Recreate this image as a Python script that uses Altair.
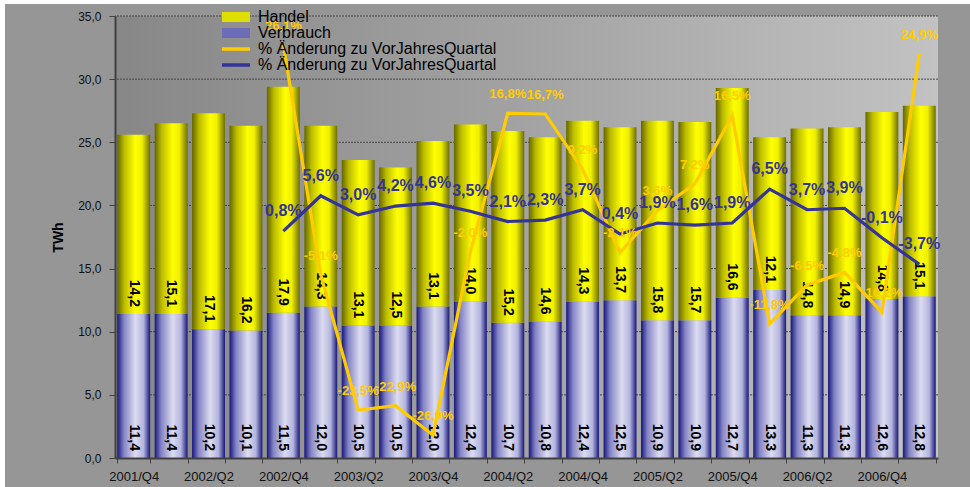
import altair as alt
import pandas as pd

# ---------------- data ----------------
quarters = ["2001/Q4", "2002/Q1", "2002/Q2", "2002/Q3", "2002/Q4", "2003/Q1",
            "2003/Q2", "2003/Q3", "2003/Q4", "2004/Q1", "2004/Q2", "2004/Q3",
            "2004/Q4", "2005/Q1", "2005/Q2", "2005/Q3", "2005/Q4", "2006/Q1",
            "2006/Q2", "2006/Q3", "2006/Q4", "2007/Q1"]
verbrauch = [11.4, 11.4, 10.2, 10.1, 11.5, 12.0, 10.5, 10.5, 12.0, 12.4, 10.7,
             10.8, 12.4, 12.5, 10.9, 10.9, 12.7, 13.3, 11.3, 11.3, 12.6, 12.8]
handel = [14.2, 15.1, 17.1, 16.2, 17.9, 14.3, 13.1, 12.5, 13.1, 14.0, 15.2,
          14.6, 14.3, 13.7, 15.8, 15.7, 16.6, 12.1, 14.8, 14.9, 14.8, 15.1]
handel_pct = [None, None, None, None, 26.1, -5.1, -23.5, -22.9, -26.9, -2.0, 16.8,
              16.7, 9.2, -2.1, 3.6, 7.2, 16.5, -11.8, -6.5, -4.8, -10.2, 24.9]
verbrauch_pct = [None, None, None, None, 0.8, 5.6, 3.0, 4.2, 4.6, 3.5, 2.1,
                 2.3, 3.7, 0.4, 1.9, 1.6, 1.9, 6.5, 3.7, 3.9, -0.1, -3.7]

series_bars = ["Handel", "Verbrauch"]
series_lines = ["Handel %", "Verbrauch %"]
line_label = "% Änderung zu VorJahresQuartal"
y_ticks = [0, 5, 10, 15, 20, 25, 30, 35]
pct_domain = [-30, 30]

# ---------------- styling ----------------
W, H = 823, 442
PAD = {"left": 115, "top": 16, "right": 32, "bottom": 29}
FONT = "Liberation Sans"
YELLOW_LINE = "#FFCC00"
BLUE_LINE = "#333399"

bars_df = pd.DataFrame({"quarter": quarters, "verbrauch": verbrauch, "handel": handel})
bars_df["total"] = (bars_df["verbrauch"] + bars_df["handel"]).round(2)
bars_df["zero"] = 0.0

lines_df = pd.DataFrame({
    "quarter": quarters * 2,
    "series": [series_lines[0]] * len(quarters) + [series_lines[1]] * len(quarters),
    "pct": handel_pct + verbrauch_pct,
})

grid_df = pd.DataFrame({"v": y_ticks[1:]})

x_enc = alt.X(
    "quarter:N", title=None,
    scale=alt.Scale(domain=quarters, paddingInner=0.12, paddingOuter=0.06),
    axis=alt.Axis(labelAngle=0,
                  labelExpr="test(regexp('Q[24]$'), datum.label) ? datum.label : ''",
                  labelOverlap=False, tickBand="extent", tickSize=5, tickColor="#404040",
                  domainColor="#404040", domainWidth=2, labelFontSize=13, labelFont=FONT,
                  labelColor="#111111", labelPadding=7, grid=False, zindex=1),
)

yscale = alt.Scale(domain=[0, 35], nice=False, zero=True)
y_axis = alt.Axis(values=y_ticks, labelExpr="replace(format(datum.value, '.1f'), '.', ',')",
                  grid=False, domainColor="#404040", domainWidth=2, tickColor="#404040",
                  tickSize=6, labelPadding=8, labelFontSize=12, labelFont=FONT,
                  labelColor="#111111", title="TWh", titleFontSize=14, titleFontWeight="bold",
                  titleFont=FONT, titleColor="#000000", titlePadding=12, zindex=1)

bg_grad = alt.Gradient(gradient="linear", x1=0, x2=1, y1=0, y2=0, stops=[
    alt.GradientStop(color="#878787", offset=0),
    alt.GradientStop(color="#a3a3a3", offset=0.5),
    alt.GradientStop(color="#c2c2c2", offset=1)])
handel_grad = alt.Gradient(gradient="linear", x1=0, x2=1, y1=0, y2=0, stops=[
    alt.GradientStop(color="#666600", offset=0),
    alt.GradientStop(color="#bdbd00", offset=0.22),
    alt.GradientStop(color="#ffff00", offset=0.55),
    alt.GradientStop(color="#f0f000", offset=0.75),
    alt.GradientStop(color="#6e6e00", offset=1)])
verb_grad = alt.Gradient(gradient="linear", x1=0, x2=1, y1=0, y2=0, stops=[
    alt.GradientStop(color="#16167c", offset=0),
    alt.GradientStop(color="#8484c6", offset=0.2),
    alt.GradientStop(color="#dcdcf0", offset=0.55),
    alt.GradientStop(color="#b4b4de", offset=0.8),
    alt.GradientStop(color="#16167c", offset=1)])

# outer grey frame (leaves a thin white strip at the top and left, as in the reference)
frame = alt.Chart(pd.DataFrame({"a": [0]})).mark_rect(color="#969696").encode(
    x=alt.value(5 - PAD["left"]), x2=alt.value(W + PAD["right"]),
    y=alt.value(4 - PAD["top"]), y2=alt.value(H + PAD["bottom"]))

bg = alt.Chart(pd.DataFrame({"a": [0]})).mark_rect(color=bg_grad).encode(
    x=alt.value(0), x2=alt.value(W), y=alt.value(0), y2=alt.value(H))

grid = alt.Chart(grid_df).mark_rule(color="#474747", strokeWidth=1, strokeDash=[2, 1]).encode(
    y=alt.Y("v:Q", scale=yscale, axis=y_axis))

base = alt.Chart(bars_df).encode(x=x_enc)

vb = base.mark_bar(color=verb_grad).encode(
    y=alt.Y("verbrauch:Q", scale=yscale, axis=y_axis))
hb = base.mark_bar(color=handel_grad).encode(
    y=alt.Y("total:Q", scale=yscale, axis=y_axis), y2="verbrauch:Q")

txt_style = dict(angle=90, align="right", baseline="middle", dx=-7, fontSize=14,
                 fontWeight="bold", font=FONT, color="#000000")
vt = base.transform_calculate(
    lab="replace(format(datum.verbrauch, '.1f'), '.', ',')"
).mark_text(**txt_style).encode(y=alt.Y("zero:Q", scale=yscale, axis=y_axis), text="lab:N")
ht = base.transform_calculate(
    lab="replace(format(datum.handel, '.1f'), '.', ',')"
).mark_text(**txt_style).encode(y=alt.Y("verbrauch:Q", scale=yscale, axis=y_axis), text="lab:N")

left_group = alt.layer(frame, bg, grid, vb, hb, vt, ht)

pscale = alt.Scale(domain=pct_domain, nice=False, zero=False)
lbase = alt.Chart(lines_df).encode(x=x_enc)

lines = lbase.mark_line(strokeWidth=3.2).encode(
    y=alt.Y("pct:Q", scale=pscale, axis=None),
    stroke=alt.Stroke("series:N", scale=alt.Scale(domain=series_lines, range=[YELLOW_LINE, BLUE_LINE]),
                      legend=alt.Legend(title=None, orient="none", legendX=113, legendY=25,
                                        symbolType="M-2.8,0H2.8", symbolSize=100,
                                        symbolStrokeWidth=3.5, labelExpr=f"'{line_label}'",
                                        labelFont=FONT, labelFontSize=16, labelColor="#000000",
                                        labelOffset=14, rowPadding=0, padding=0, labelLimit=400)),
)

pct_lab = "replace(replace(format(datum.pct, '.1f'), '.', ','), '\u2212', '-') + '%'"
yt = lbase.transform_filter(
    f"datum.series == '{series_lines[0]}' && isValid(datum.pct)"
).transform_calculate(lab=pct_lab).mark_text(
    color=YELLOW_LINE, fontSize=13, fontWeight="bold", font=FONT, baseline="middle", dy=-19
).encode(y=alt.Y("pct:Q", scale=pscale, axis=None), text="lab:N")
bt = lbase.transform_filter(
    f"datum.series == '{series_lines[1]}' && isValid(datum.pct)"
).transform_calculate(lab=pct_lab).mark_text(
    color=BLUE_LINE, fontSize=16, fontWeight="bold", font=FONT, baseline="middle", dy=-20
).encode(y=alt.Y("pct:Q", scale=pscale, axis=None), text="lab:N")

right_group = alt.layer(lines, yt, bt)

legend_dummy = alt.Chart(pd.DataFrame({"series": series_bars})).mark_square(opacity=0, size=10).encode(
    fill=alt.Fill("series:N", scale=alt.Scale(domain=series_bars, range=["#dede00", "#6c6cb8"]),
                  legend=alt.Legend(title=None, orient="none", legendX=113, legendY=-7,
                                    symbolType="M-2.8,-1H2.8V1H-2.8Z", symbolSize=100,
                                    symbolOpacity=1, symbolStrokeWidth=0,
                                    labelFont=FONT, labelFontSize=16, labelColor="#000000",
                                    labelOffset=14, rowPadding=0, padding=0, labelLimit=400)),
)

chart = alt.layer(left_group, right_group, legend_dummy).resolve_scale(
    y="independent"
).properties(
    width=W, height=H,
    padding=PAD,
    autosize=alt.AutoSizeParams(type="none"),
    background="#ffffff",
).configure_view(stroke=None)

chart.save("out.html", embed_options={"renderer": "svg", "actions": False})
